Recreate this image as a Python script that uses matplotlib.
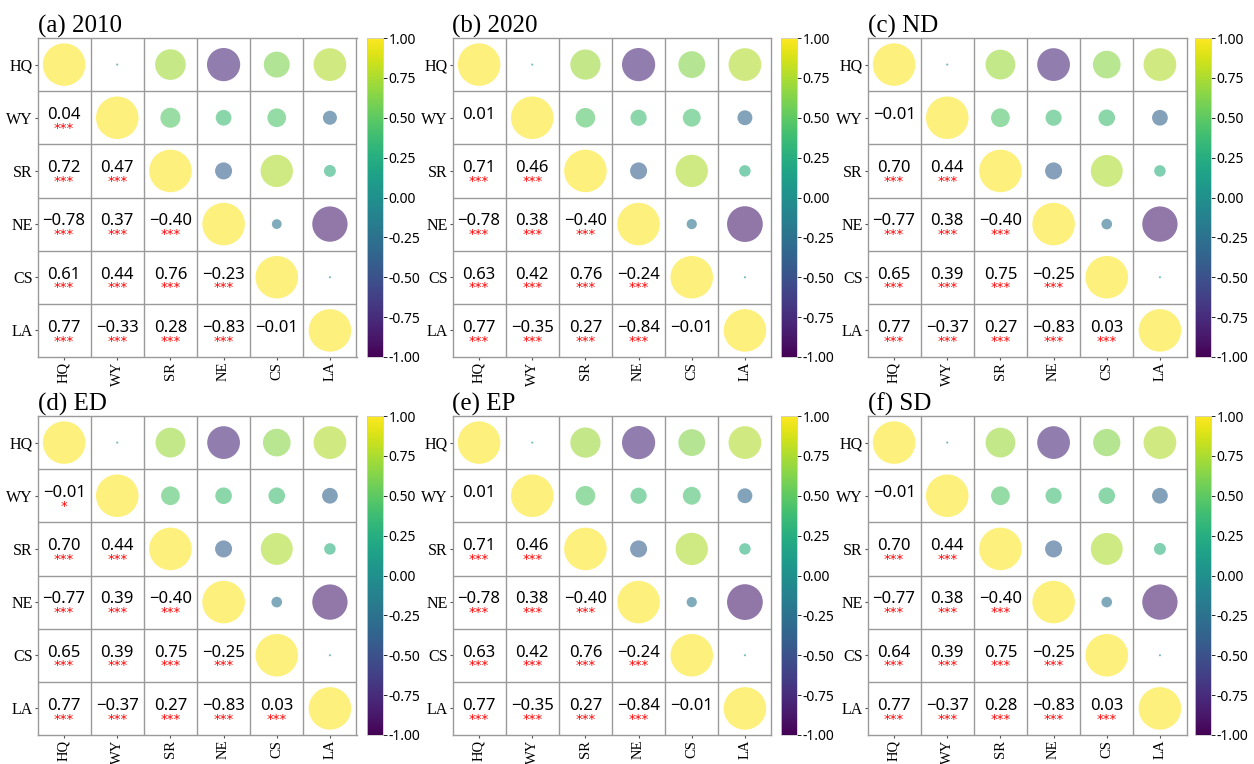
import matplotlib
matplotlib.use("Agg")
import matplotlib.pyplot as plt
import numpy as np
from matplotlib.patches import Circle
from matplotlib.cm import ScalarMappable
from matplotlib.colors import Normalize

variables = ["HQ", "WY", "SR", "NE", "CS", "LA"]

titles = ["(a) 2010", "(b) 2020", "(c) ND", "(d) ED", "(e) EP", "(f) SD"]

# lower-triangle correlations, row by row (WY, SR, NE, CS, LA)
r_2010 = [[0.04],
          [0.72, 0.47],
          [-0.78, 0.37, -0.40],
          [0.61, 0.44, 0.76, -0.23],
          [0.77, -0.33, 0.28, -0.83, -0.01]]
s_2010 = [["***"],
          ["***", "***"],
          ["***", "***", "***"],
          ["***", "***", "***", "***"],
          ["***", "***", "***", "***", ""]]

r_2020 = [[0.01],
          [0.71, 0.46],
          [-0.78, 0.38, -0.40],
          [0.63, 0.42, 0.76, -0.24],
          [0.77, -0.35, 0.27, -0.84, -0.01]]
s_2020 = [[""],
          ["***", "***"],
          ["***", "***", "***"],
          ["***", "***", "***", "***"],
          ["***", "***", "***", "***", ""]]

r_nd = [[-0.01],
        [0.70, 0.44],
        [-0.77, 0.38, -0.40],
        [0.65, 0.39, 0.75, -0.25],
        [0.77, -0.37, 0.27, -0.83, 0.03]]
s_nd = [[""],
        ["***", "***"],
        ["***", "***", "***"],
        ["***", "***", "***", "***"],
        ["***", "***", "***", "***", "***"]]

r_ed = [[-0.01],
        [0.70, 0.44],
        [-0.77, 0.39, -0.40],
        [0.65, 0.39, 0.75, -0.25],
        [0.77, -0.37, 0.27, -0.83, 0.03]]
s_ed = [["*"],
        ["***", "***"],
        ["***", "***", "***"],
        ["***", "***", "***", "***"],
        ["***", "***", "***", "***", "***"]]

r_ep = [[0.01],
        [0.71, 0.46],
        [-0.78, 0.38, -0.40],
        [0.63, 0.42, 0.76, -0.24],
        [0.77, -0.35, 0.27, -0.84, -0.01]]
s_ep = [[""],
        ["***", "***"],
        ["***", "***", "***"],
        ["***", "***", "***", "***"],
        ["***", "***", "***", "***", ""]]

r_sd = [[-0.01],
        [0.70, 0.44],
        [-0.77, 0.38, -0.40],
        [0.64, 0.39, 0.75, -0.25],
        [0.77, -0.37, 0.28, -0.83, 0.03]]
s_sd = [[""],
        ["***", "***"],
        ["***", "***", "***"],
        ["***", "***", "***", "***"],
        ["***", "***", "***", "***", "***"]]

panels = [(r_2010, s_2010), (r_2020, s_2020), (r_nd, s_nd),
          (r_ed, s_ed), (r_ep, s_ep), (r_sd, s_sd)]

SERIF = "Liberation Serif"
SANS = "Noto Sans"

cmap = plt.get_cmap("viridis")
norm = Normalize(vmin=-1, vmax=1)


def full_matrix(lower):
    n = len(lower) + 1
    m = np.eye(n)
    for i, row in enumerate(lower, start=1):
        for j, v in enumerate(row):
            m[i, j] = v
            m[j, i] = v
    return m


def draw_panel(ax, cax, title, lower, stars):
    m = full_matrix(lower)
    n = m.shape[0]

    ax.set_xlim(-0.5, n - 0.5)
    ax.set_ylim(n - 0.5, -0.5)
    ax.set_aspect("equal")

    for k in range(1, n):
        ax.axhline(k - 0.5, color="#9a9a9a", lw=1.0)
        ax.axvline(k - 0.5, color="#9a9a9a", lw=1.0)
    for sp in ax.spines.values():
        sp.set_color("#9a9a9a")
        sp.set_linewidth(1.0)

    # circles on and above the diagonal, diameter scaled by |r|
    for i in range(n):
        for j in range(i, n):
            v = m[i, j]
            rad = max(0.4 * abs(v), 0.02)
            ax.add_patch(Circle((j, i), rad, color=cmap(norm(v)),
                                alpha=0.6, lw=0))

    # values and significance below the diagonal
    for i in range(1, n):
        for j in range(i):
            v = m[i, j]
            ax.text(j, i - 0.05, f"{v:.2f}".replace("-", "\u2212"),
                    ha="center", va="center", fontsize=12, family=SANS)
            if stars[i - 1][j]:
                ax.text(j, i + 0.2, stars[i - 1][j], ha="center",
                        va="center", fontsize=9.5, color="red")

    ax.set_xticks(range(n))
    ax.set_yticks(range(n))
    ax.set_xticklabels(variables, rotation=90, family=SERIF, fontsize=10.5)
    ax.set_yticklabels(variables, family=SERIF, fontsize=11.5)
    ax.tick_params(length=2.5, width=0.8, color="#555555", pad=1)
    ax.set_title(title, loc="left", family=SERIF, fontsize=18, pad=4)

    cb = plt.colorbar(ScalarMappable(norm=norm, cmap=cmap), cax=cax,
                      ticks=np.arange(-1, 1.01, 0.25), format="%.2f")
    cb.outline.set_edgecolor("#cccccc")
    cb.outline.set_linewidth(0.6)
    cax.tick_params(labelsize=10, length=3, width=0.6, pad=1)
    for t in cax.get_yticklabels():
        t.set_family(SANS)


fig = plt.figure(figsize=(12.54, 7.64), dpi=100)

W, H = 1254.0, 764.0
ax_left = [37, 452, 867]
cb_left = [367, 781, 1195]
ax_top = [38, 416]
size_w, size_h = 320, 319

for k, (title, (lower, stars)) in enumerate(zip(titles, panels)):
    row, col = divmod(k, 3)
    bottom = (H - ax_top[row] - size_h) / H
    ax = fig.add_axes([ax_left[col] / W, bottom, size_w / W, size_h / H])
    cax = fig.add_axes([cb_left[col] / W, bottom, 16 / W, size_h / H])
    draw_panel(ax, cax, title, lower, stars)

fig.savefig("out.png", dpi=100)
